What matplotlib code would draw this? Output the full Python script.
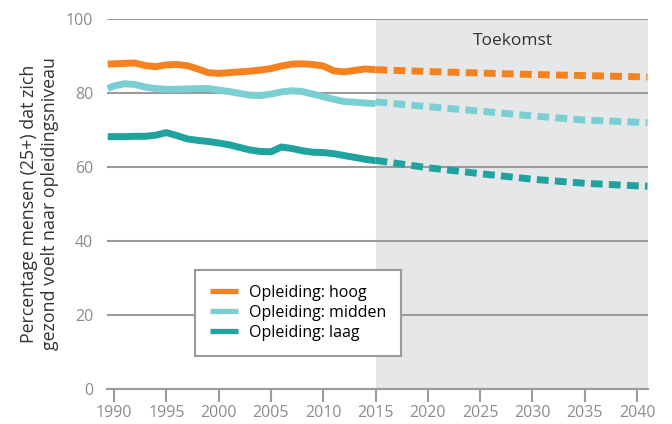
import matplotlib.pyplot as plt

# historische reeks
years_hist = [1989.4, 1990, 1991, 1992, 1993, 1994, 1995, 1996, 1997, 1998, 1999,
              2000, 2001, 2002, 2003, 2004, 2005, 2006, 2007, 2008, 2009, 2010,
              2011, 2012, 2013, 2014, 2015]
hoog_hist = [87.8, 87.9, 88.0, 88.1, 87.4, 87.1, 87.6, 87.7, 87.4, 86.5, 85.5,
             85.3, 85.5, 85.7, 85.9, 86.2, 86.6, 87.3, 87.8, 87.9, 87.7, 87.3,
             86.0, 85.7, 86.1, 86.5, 86.3]
midden_hist = [81.2, 81.9, 82.5, 82.3, 81.6, 81.2, 81.0, 81.0, 81.1, 81.2, 81.2,
               80.8, 80.4, 79.9, 79.4, 79.3, 79.7, 80.3, 80.6, 80.4, 79.7, 79.0,
               78.3, 77.7, 77.5, 77.3, 77.1]
laag_hist = [68.2, 68.2, 68.2, 68.3, 68.3, 68.6, 69.3, 68.5, 67.6, 67.2, 66.9,
             66.5, 66.0, 65.3, 64.6, 64.2, 64.1, 65.4, 65.0, 64.4, 64.0, 63.9,
             63.6, 63.1, 62.6, 62.1, 61.7]

# prognose (toekomst)
years_fut = [2015, 2020, 2025, 2030, 2035, 2040, 2041]
hoog_fut = [86.3, 85.8, 85.4, 85.0, 84.7, 84.4, 84.3]
midden_fut = [77.6, 76.3, 75.1, 73.8, 72.7, 72.1, 72.0]
laag_fut = [61.8, 59.8, 58.2, 56.7, 55.6, 54.9, 54.8]

labels = ["Opleiding: hoog", "Opleiding: midden", "Opleiding: laag"]
colors = ["#F5821F", "#7ACFD3", "#1FA39E"]
xticks = list(range(1990, 2041, 5))
yticks = [0, 20, 40, 60, 80, 100]

plt.rcParams["font.family"] = ["Open Sans", "DejaVu Sans"]
grey = "#9B9B9B"

fig = plt.figure(figsize=(6.72, 4.24), dpi=100)
ax = fig.add_axes([107 / 672, 35 / 424, 541 / 672, 370 / 424])
ax.set_xlim(1989.33, 2041.05)
ax.set_ylim(0, 100)

ax.axvspan(2015, 2041.05, color="#E6E7E9", zorder=0, lw=0)
ax.text(2028.1, 94, "Toekomst", ha="center", va="center", fontsize=12.5, color="#333333")

series = [(hoog_hist, hoog_fut), (midden_hist, midden_fut), (laag_hist, laag_fut)]
for (hist, fut), lab, col in zip(series, labels, colors):
    ax.plot(years_hist, hist, color=col, lw=5, solid_joinstyle="round",
            solid_capstyle="butt", label=lab, zorder=3)
    ax.plot(years_fut, fut, color=col, lw=5, dashes=(1.7, 0.9),
            dash_capstyle="butt", zorder=3)

ax.set_yticks(yticks)
ax.set_xticks(xticks)
ax.yaxis.grid(True, color=grey, lw=1.5)
ax.set_axisbelow(False)
for gl in ax.get_ygridlines():
    gl.set_zorder(1)
for s in ["top", "right", "left"]:
    ax.spines[s].set_visible(False)
ax.spines["bottom"].set_color(grey)
ax.spines["bottom"].set_linewidth(1.5)
ax.spines["bottom"].set_zorder(1)
ax.tick_params(axis="y", length=0, pad=10, labelsize=11.5, labelcolor="#8C8C8C")
ax.tick_params(axis="x", length=9.5, width=1.5, color=grey, pad=2,
               labelsize=11.5, labelcolor="#8C8C8C")

ax.set_ylabel("Percentage mensen (25+) dat zich\ngezond voelt naar opleidingsniveau",
              fontsize=12.8, color="#333333", labelpad=5, linespacing=1.2)

leg = ax.legend(loc="lower left", bbox_to_anchor=(0.163, 0.089), borderaxespad=0,
                fancybox=False, framealpha=1, edgecolor=grey, fontsize=11.5,
                handlelength=1.7, handletextpad=0.7, labelspacing=0.25,
                borderpad=0.95)
leg.get_frame().set_linewidth(1.5)
leg.set_zorder(5)
for h in leg.get_lines():
    h.set_linewidth(3.8)

fig.savefig("out.png", dpi=100)
